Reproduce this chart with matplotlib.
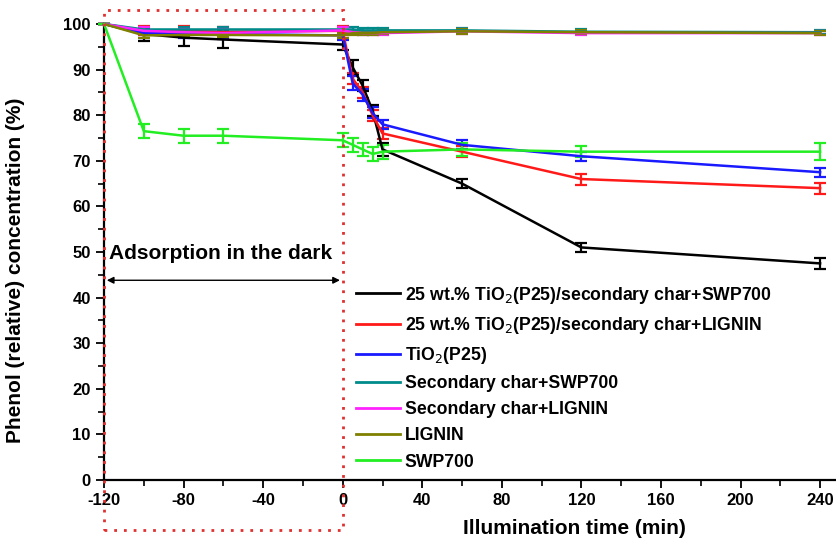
import matplotlib.pyplot as plt
from matplotlib.patches import Rectangle
from matplotlib.ticker import MultipleLocator

plt.rcParams['font.family'] = ['Liberation Sans', 'DejaVu Sans']
plt.rcParams['axes.unicode_minus'] = False

# sampling times (min)
t = [-120, -100, -80, -60, 0, 5, 10, 15, 20, 60, 120, 240]

labels = [
    "25 wt.% TiO$_2$(P25)/secondary char+SWP700",
    "25 wt.% TiO$_2$(P25)/secondary char+LIGNIN",
    "TiO$_2$(P25)",
    "Secondary char+SWP700",
    "Secondary char+LIGNIN",
    "LIGNIN",
    "SWP700",
]
colors = ["black", "#ff1a1a", "#1a1aff", "#008b8b", "#ff22ff", "#808000", "#22ee22"]

y_tio2_swp = [100, 97.8, 97.0, 96.6, 95.5, 90.5, 86.5, 81.0, 72.5, 65.0, 51.0, 47.5]
y_tio2_lig = [100, 98.5, 98.5, 98.3, 98.5, 88.0, 85.0, 80.0, 76.0, 72.0, 66.0, 64.0]
y_tio2 = [100, 98.0, 98.0, 97.8, 97.5, 87.0, 84.5, 80.5, 78.0, 73.5, 71.0, 67.5]
y_sec_swp = [100, 98.8, 98.8, 98.8, 98.8, 98.8, 98.6, 98.6, 98.6, 98.6, 98.3, 98.2]
y_sec_lig = [100, 98.5, 98.2, 98.0, 98.6, 98.2, 98.0, 98.0, 98.0, 98.4, 98.0, 98.0]
y_lignin = [100, 97.5, 97.6, 97.6, 97.5, 98.0, 98.0, 98.0, 98.2, 98.4, 98.2, 98.0]
y_swp = [100, 76.5, 75.5, 75.5, 74.5, 73.5, 72.5, 71.5, 72.0, 72.5, 72.0, 72.0]

e_tio2_swp = [0, 1.5, 1.8, 1.8, 1.2, 1.5, 1.3, 1.2, 1.5, 1.0, 1.0, 1.2]
e_tio2_lig = [0, 1.0, 1.0, 1.0, 1.0, 1.2, 1.2, 1.2, 1.2, 1.2, 1.2, 1.2]
e_tio2 = [0, 1.0, 1.0, 1.0, 1.0, 1.5, 1.3, 1.2, 1.0, 1.0, 1.0, 1.0]
e_sec_swp = [0, 0.6, 0.6, 0.6, 0.6, 0.5, 0.5, 0.5, 0.5, 0.5, 0.5, 0.5]
e_sec_lig = [0, 0.8, 0.8, 0.8, 0.8, 0.5, 0.5, 0.5, 0.5, 0.5, 0.5, 0.5]
e_lignin = [0, 0.5, 0.5, 0.5, 0.5, 0.5, 0.5, 0.5, 0.5, 0.5, 0.5, 0.5]
e_swp = [0, 1.5, 1.5, 1.5, 1.5, 1.5, 1.5, 1.5, 1.5, 1.5, 1.2, 1.8]

series = [y_tio2_swp, y_tio2_lig, y_tio2, y_sec_swp, y_sec_lig, y_lignin, y_swp]
errors = [e_tio2_swp, e_tio2_lig, e_tio2, e_sec_swp, e_sec_lig, e_lignin, e_swp]

fig = plt.figure(figsize=(8.37, 5.38), dpi=100)
ax = fig.add_axes([0.1243, 0.1078, 0.8745, 0.8476])

handles = []
for y, e, c, lab in zip(series, errors, colors, labels):
    eb = ax.errorbar(t, y, yerr=e, color=c, lw=1.8, capsize=4, capthick=1.6,
                     elinewidth=1.6, clip_on=False, zorder=3)
    for art in eb.lines[1] + eb.lines[2]:
        art.set_clip_on(False)
    handles.append(plt.Line2D([], [], color=c, lw=2, label=lab))

ax.set_xlim(-120, 248)
ax.set_ylim(0, 100)
ax.xaxis.set_major_locator(MultipleLocator(40))
ax.xaxis.set_minor_locator(MultipleLocator(20))
ax.yaxis.set_major_locator(MultipleLocator(10))
ax.yaxis.set_minor_locator(MultipleLocator(5))
ax.tick_params(which="major", length=6, width=1.3, labelsize=12, direction="out")
ax.tick_params(which="minor", length=4, width=1.2, direction="out")
for lbl in ax.get_xticklabels() + ax.get_yticklabels():
    lbl.set_fontweight("bold")
ax.spines["top"].set_visible(False)
ax.spines["right"].set_visible(False)
ax.spines["left"].set_linewidth(1.6)
ax.spines["bottom"].set_linewidth(1.6)

ax.set_xlabel("Illumination time (min)", fontsize=15, fontweight="bold")
ax.xaxis.set_label_coords(0.643, -0.085)
ax.set_ylabel("Phenol (relative) concentration (%)", fontsize=15, fontweight="bold")
ax.yaxis.set_label_coords(-0.108, 0.46)

# dark adsorption box
rect = Rectangle((-120, -11), 120, 114, fill=False, ec="#e03030", ls=(0, (1, 2.5)),
                 lw=2, clip_on=False, zorder=4)
ax.add_patch(rect)
ax.annotate("", xy=(-120, 43.8), xytext=(0, 43.8),
            arrowprops=dict(arrowstyle="<|-|>", color="black", lw=1, mutation_scale=10))
ax.text(-61.5, 49.6, "Adsorption in the dark", ha="center", va="center",
        fontsize=15, fontweight="bold")

leg = ax.legend(handles=handles, loc="lower left", bbox_to_anchor=(0.335, 0.005),
                bbox_transform=ax.transAxes, frameon=False, fontsize=12.7,
                handlelength=2.45, handletextpad=0.3, labelspacing=0.52,
                borderaxespad=0)
for txt in leg.get_texts():
    txt.set_fontweight("bold")

fig.savefig("out.png", dpi=100)
